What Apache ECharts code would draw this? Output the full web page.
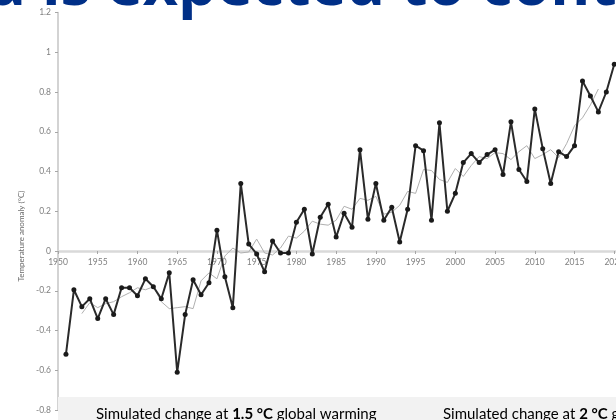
<!DOCTYPE html>
<html>
<head>
<meta charset="utf-8">
<script src="https://cdn.jsdelivr.net/npm/echarts@6/dist/echarts.min.js"></script>
<style>
  html, body { margin: 0; padding: 0; background: #ffffff; }
  #chart { width: 616px; height: 420px; }
</style>
</head>
<body>
<div id="chart"></div>
<script>
// Annual global temperature anomaly (°C), 1951–2020
const years = [
  1951, 1952, 1953, 1954, 1955, 1956, 1957, 1958, 1959, 1960,
  1961, 1962, 1963, 1964, 1965, 1966, 1967, 1968, 1969, 1970,
  1971, 1972, 1973, 1974, 1975, 1976, 1977, 1978, 1979, 1980,
  1981, 1982, 1983, 1984, 1985, 1986, 1987, 1988, 1989, 1990,
  1991, 1992, 1993, 1994, 1995, 1996, 1997, 1998, 1999, 2000,
  2001, 2002, 2003, 2004, 2005, 2006, 2007, 2008, 2009, 2010,
  2011, 2012, 2013, 2014, 2015, 2016, 2017, 2018, 2019, 2020
];
const anomaly = [
  -0.52, -0.195, -0.28, -0.24, -0.34, -0.24, -0.32, -0.185, -0.185, -0.225,
  -0.14, -0.18, -0.24, -0.11, -0.61, -0.32, -0.145, -0.22, -0.16, 0.105,
  -0.13, -0.285, 0.34, 0.035, -0.015, -0.105, 0.05, -0.01, -0.01, 0.145,
  0.21, -0.015, 0.17, 0.235, 0.07, 0.19, 0.12, 0.51, 0.16, 0.34,
  0.155, 0.22, 0.045, 0.21, 0.53, 0.505, 0.155, 0.645, 0.2, 0.29,
  0.445, 0.49, 0.445, 0.485, 0.51, 0.385, 0.65, 0.41, 0.35, 0.715,
  0.515, 0.34, 0.5, 0.475, 0.53, 0.855, 0.78, 0.70, 0.80, 0.94
];

// Smoothed trend, 1953–2018
const smoothYears = [
  1953, 1954, 1955, 1956, 1957, 1958, 1959, 1960,
  1961, 1962, 1963, 1964, 1965, 1966, 1967, 1968, 1969, 1970,
  1971, 1972, 1973, 1974, 1975, 1976, 1977, 1978, 1979, 1980,
  1981, 1982, 1983, 1984, 1985, 1986, 1987, 1988, 1989, 1990,
  1991, 1992, 1993, 1994, 1995, 1996, 1997, 1998, 1999, 2000,
  2001, 2002, 2003, 2004, 2005, 2006, 2007, 2008, 2009, 2010,
  2011, 2012, 2013, 2014, 2015, 2016, 2017, 2018
];
const smoothed = [
  -0.315, -0.26, -0.285, -0.265, -0.255, -0.23, -0.21, -0.185,
  -0.195, -0.18, -0.255, -0.29, -0.285, -0.28, -0.29, -0.15, -0.11, -0.14,
  -0.025, 0.015, -0.01, -0.005, 0.06, -0.01, -0.02, 0.015, 0.075, 0.065,
  0.1, 0.15, 0.135, 0.13, 0.155, 0.225, 0.21, 0.265, 0.255, 0.275,
  0.185, 0.195, 0.23, 0.3, 0.29, 0.41, 0.405, 0.36, 0.345, 0.415,
  0.375, 0.43, 0.475, 0.465, 0.495, 0.49, 0.46, 0.5, 0.53, 0.465,
  0.485, 0.51, 0.47, 0.54, 0.63, 0.67, 0.735, 0.815
];

const headline = 'world is expected to continue';
const yAxisTitle = 'Temperature anomaly (°C)';
const captionLow = ['Simulated change at ', '1.5 °C', ' global warming'];
const captionHigh = ['Simulated change at ', '2 °C', ' global warming'];

// Value range of the temperature axis
const yMin = -0.8;
const yMax = 1.2;

// Plot frame
const gridTop = 12.5;
const gridBottom = 10;
const chartHeight = 420;
const plotHeight = chartHeight - gridTop - gridBottom;
// distance from the bottom of the plot up to the zero line
const zeroLift = plotHeight * (0 - yMin) / (yMax - yMin);

// Headline layout: place the first word so that the following words line up
const headFont = 'bold 61px "Open Sans"';
const measure = document.createElement('canvas').getContext('2d');
measure.font = headFont;
const headX = 42 - measure.measureText('world ').width;

const chart = echarts.init(document.getElementById('chart'), null, { renderer: 'canvas' });

const axisFont = 'Lato';

chart.setOption({
  animation: false,
  backgroundColor: '#ffffff',
  grid: {
    left: 58, right: -38, top: gridTop, bottom: gridBottom,
    containLabel: false, outerBoundsMode: 'none'
  },
  xAxis: {
    type: 'value',
    min: 1950,
    max: 2025,
    interval: 5,
    position: 'bottom',
    offset: -zeroLift,
    axisLine: { onZero: false, lineStyle: { color: '#d9d9d9', width: 2.5 } },
    axisTick: { show: true, length: 3, lineStyle: { color: '#a6a6a6', width: 1 } },
    axisLabel: {
      fontSize: 8.5, color: '#808080', margin: 7, fontFamily: axisFont,
      formatter: (v) => String(v)
    },
    splitLine: { show: false }
  },
  yAxis: {
    type: 'value',
    min: yMin,
    max: yMax,
    interval: 0.2,
    axisLine: { show: true, onZero: false, lineStyle: { color: '#c4c4c4', width: 1.5 } },
    axisTick: { show: true, length: 3, lineStyle: { color: '#a6a6a6', width: 1 } },
    axisLabel: { fontSize: 8.5, color: '#808080', margin: 7, fontFamily: axisFont },
    splitLine: { show: false }
  },
  series: [
    {
      name: 'smoothed',
      type: 'line',
      data: smoothYears.map((y, i) => [y, smoothed[i]]),
      showSymbol: false,
      lineStyle: { color: '#b0b0b0', width: 1 },
      z: 2
    },
    {
      name: 'anomaly',
      type: 'line',
      data: years.map((y, i) => [y, anomaly[i]]),
      symbol: 'circle',
      symbolSize: 5,
      itemStyle: { color: '#1a1a1a' },
      lineStyle: { color: '#2a2a2a', width: 2 },
      z: 3
    }
  ],
  graphic: [
    {
      type: 'text',
      x: headX,
      y: -12,
      z: 10,
      style: {
        text: headline,
        font: headFont,
        fill: '#002f87',
        verticalAlign: 'middle'
      }
    },
    {
      type: 'text',
      x: 21,
      y: 236,
      rotation: Math.PI / 2,
      z: 10,
      style: {
        text: yAxisTitle,
        fontSize: 8,
        fontFamily: axisFont,
        fill: '#6b6b6b',
        align: 'center',
        verticalAlign: 'middle'
      }
    },
    {
      type: 'rect',
      z: 20,
      shape: { x: 58, y: 397, width: 560, height: 24 },
      style: { fill: '#f2f2f2' }
    },
    {
      type: 'text',
      x: 96,
      y: 414,
      z: 21,
      style: {
        text: '{n|' + captionLow[0] + '}{b|' + captionLow[1] + '}{n|' + captionLow[2] + '}',
        verticalAlign: 'middle',
        rich: {
          n: { fontSize: 15, fontFamily: 'Lato', color: '#262626' },
          b: { fontSize: 15, fontFamily: 'Lato', fontWeight: 'bold', color: '#262626' }
        }
      }
    },
    {
      type: 'text',
      x: 443,
      y: 414,
      z: 21,
      style: {
        text: '{n|' + captionHigh[0] + '}{b|' + captionHigh[1] + '}{n|' + captionHigh[2] + '}',
        verticalAlign: 'middle',
        rich: {
          n: { fontSize: 15, fontFamily: 'Lato', color: '#262626' },
          b: { fontSize: 15, fontFamily: 'Lato', fontWeight: 'bold', color: '#262626' }
        }
      }
    }
  ]
});
</script>
</body>
</html>
